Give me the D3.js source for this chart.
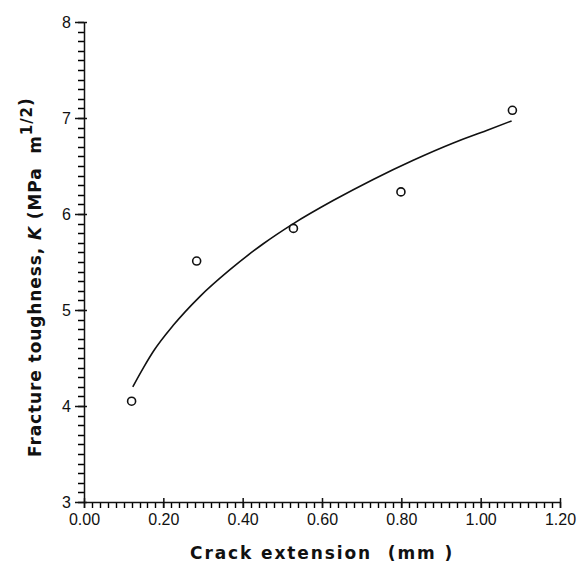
<!DOCTYPE html>
<html>
<head>
<meta charset="utf-8">
<script src="https://cdn.jsdelivr.net/npm/d3@7"></script>
<style>
    body { margin: 0; background: #fff; }
    svg { display: block; }
    .tick text { font-family: 'Liberation Sans', Arial, sans-serif; font-size: 16px; fill: #111; }
    .axis path, .axis line { stroke: #111; stroke-width: 1.5px; }
    .title { font-family: 'DejaVu Sans', sans-serif; font-weight: bold; font-size: 17px; fill: #111; }
</style>
</head>
<body>
<svg id="chart"></svg>
<script>
// measured points
const crackExt = [0.120, 0.284, 0.528, 0.799, 1.080]
const toughness = [4.05, 5.51, 5.85, 6.23, 7.08]

// fitted curve
const fitX = [0.123, 0.150, 0.175, 0.225, 0.292, 0.368, 0.452, 0.528, 0.628, 0.729, 0.830, 0.931, 1.015, 1.078]
const fitY = [4.20, 4.40, 4.57, 4.84, 5.14, 5.42, 5.69, 5.90, 6.14, 6.36, 6.56, 6.74, 6.87, 6.97]

const xTicks = [0, 0.2, 0.4, 0.6, 0.8, 1.0, 1.2]
const yTicks = [3, 4, 5, 6, 7, 8]

const width = 583
const height = 566
const margin = { top: 22, right: 23, bottom: 64, left: 84 }

const svg = d3.select('#chart')
    .attr('width', width)
    .attr('height', height)

const x = d3.scaleLinear().domain([0, 1.2]).range([margin.left, width - margin.right])
const y = d3.scaleLinear().domain([3, 8]).range([height - margin.bottom, margin.top])

const x0 = height - margin.bottom
const y0 = margin.left

// minor ticks: every 0.02 mm and every 0.1 MPa m^1/2, one path
const p = d3.path()
x.ticks(60).forEach(d => {
    p.moveTo(Math.round(x(d)) + 0.5, x0)
    p.lineTo(Math.round(x(d)) + 0.5, x0 + 6)
})
y.ticks(50).forEach(d => {
    p.moveTo(y0, Math.round(y(d)) + 0.5)
    p.lineTo(y0 - 6, Math.round(y(d)) + 0.5)
})
svg.append('path')
    .attr('d', p.toString())
    .attr('fill', 'none')
    .attr('stroke', '#000')
    .attr('stroke-width', 1.4)

// major ticks + labels
const xAxis = svg.append('g')
    .attr('class', 'axis')
    .attr('transform', `translate(0,${x0})`)
    .call(d3.axisBottom(x).tickValues(xTicks).tickSize(6).tickPadding(6).tickSizeOuter(0).tickFormat(d3.format('.2f')))
xAxis.selectAll('.tick line').attr('y1', -4)

const yAxis = svg.append('g')
    .attr('class', 'axis')
    .attr('transform', `translate(${y0},0)`)
    .call(d3.axisLeft(y).tickValues(yTicks).tickSize(9).tickPadding(4).tickSizeOuter(0).tickFormat(d3.format('d')))
yAxis.selectAll('.tick line').attr('x1', 3)

// fitted curve
const line = d3.line()
    .x(d => x(d[0]))
    .y(d => y(d[1]))
    .curve(d3.curveMonotoneX)

svg.append('path')
    .datum(d3.zip(fitX, fitY))
    .attr('d', line)
    .attr('fill', 'none')
    .attr('stroke', '#111')
    .attr('stroke-width', 1.6)

// data points
svg.selectAll('circle.pt')
    .data(d3.zip(crackExt, toughness))
    .enter()
    .append('circle')
    .attr('class', 'pt')
    .attr('cx', d => x(d[0]))
    .attr('cy', d => y(d[1]))
    .attr('r', 4)
    .attr('fill', '#fff')
    .attr('stroke', '#111')
    .attr('stroke-width', 1.6)

// axis titles
svg.append('text')
    .attr('class', 'title')
    .attr('x', 190)
    .attr('y', 559)
    .attr('letter-spacing', '1.9px')
    .attr('xml:space', 'preserve')
    .text('Crack extension  (mm )')

const yt = svg.append('text')
    .attr('class', 'title')
    .attr('transform', 'translate(41,457) rotate(-90)')
    .attr('letter-spacing', '0.9px')
    .attr('xml:space', 'preserve')
yt.append('tspan').text('Fracture toughness, ')
yt.append('tspan').attr('font-style', 'italic').text('K')
yt.append('tspan').text(' (MPa  m')
yt.append('tspan').attr('dy', -9).attr('font-size', '15px').text('1/2')
yt.append('tspan').text(')')
</script>
</body>
</html>
